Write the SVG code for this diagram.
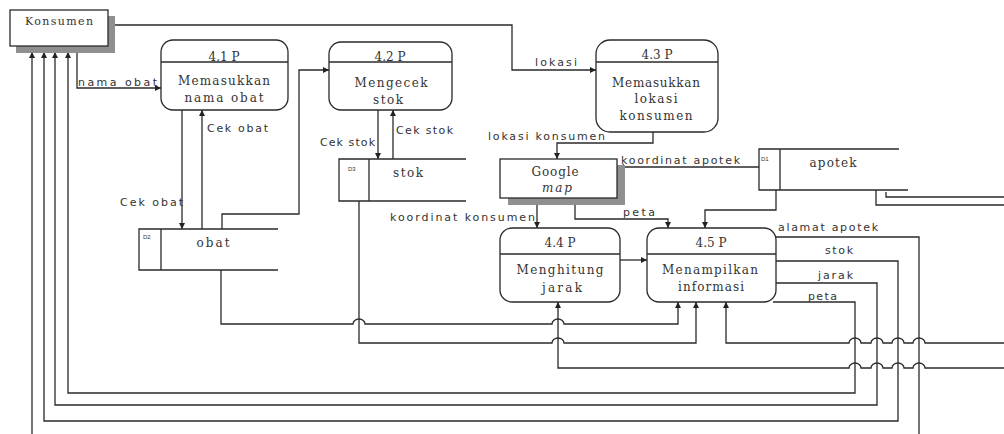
<svg xmlns="http://www.w3.org/2000/svg" width="1004" height="434" viewBox="0 0 1004 434">
<style>
.bx{fill:#fff;stroke:#2a2a2a;stroke-width:1.3}
.sh{fill:#8f8f8f}
.ln{fill:none;stroke:#2a2a2a;stroke-width:1.3}
.pt{font-family:"DejaVu Serif","Liberation Serif",serif;font-size:12px;fill:#333;text-anchor:middle}
.lb{font-family:"DejaVu Sans","Liberation Sans",sans-serif;font-size:11px;fill:#333}
.sm{font-family:"Liberation Sans",sans-serif;font-size:6px;fill:#333}
</style>
<defs>
<marker id="ar" markerUnits="userSpaceOnUse" markerWidth="7" markerHeight="6" refX="6" refY="3" orient="auto">
<path d="M0,0 L6,3 L0,6 Z" fill="#222"/>
</marker>
</defs>
<rect width="1004" height="434" fill="#fff"/>

<g id="connectors">
<path class="ln" d="M110 25 H512 V70 H596" marker-end="url(#ar)"/>
<path class="ln" d="M77 50 V88 H161" marker-end="url(#ar)"/>
<path class="ln" d="M182 110 V229" marker-end="url(#ar)"/>
<path class="ln" d="M202 229 V110" marker-end="url(#ar)"/>
<path class="ln" d="M222 229 V214 H299 V70 H329" marker-end="url(#ar)"/>
<path class="ln" d="M378 110 V159" marker-end="url(#ar)"/>
<path class="ln" d="M393 159 V110" marker-end="url(#ar)"/>
<path class="ln" d="M653 132 V143 H557 V159" marker-end="url(#ar)"/>
<path class="ln" d="M759 167 H618" marker-end="url(#ar)"/>
<path class="ln" d="M537 205 V228" marker-end="url(#ar)"/>
<path class="ln" d="M575 203 V219 H668 V228" marker-end="url(#ar)"/>
<path class="ln" d="M776 190 V210 H705 V228" marker-end="url(#ar)"/>
<path class="ln" d="M876 190 V205 H1004"/>
<path class="ln" d="M1004 197 H886 V192"/>
<path class="ln" d="M620 260 H647" marker-end="url(#ar)"/>
<path class="ln" d="M776 237 H919 V434"/>
<path class="ln" d="M32 434 V52" marker-end="url(#ar)"/>
<path class="ln" d="M776 261 H898 V421 H44 V52" marker-end="url(#ar)"/>
<path class="ln" d="M776 283 H877 V405 H55 V52" marker-end="url(#ar)"/>
<path class="ln" d="M773 302 H855 V393 H68 V52" marker-end="url(#ar)"/>
<path class="ln" d="M221 270 V324 H353 a6 5 0 0 1 12 0 H552 a6 5 0 0 1 12 0 H678 V302" marker-end="url(#ar)"/>
<path class="ln" d="M359 201 V343 H552 a6 5 0 0 1 12 0 H696 V302" marker-end="url(#ar)"/>
<path class="ln" d="M1004 343 H925 a6 5 0 0 0 -12 0 H904 a6 5 0 0 0 -12 0 H883 a6 5 0 0 0 -12 0 H861 a6 5 0 0 0 -12 0 H726 V302" marker-end="url(#ar)"/>
<path class="ln" d="M1004 368 H925 a6 5 0 0 0 -12 0 H904 a6 5 0 0 0 -12 0 H883 a6 5 0 0 0 -12 0 H861 a6 5 0 0 0 -12 0 H558 V302" marker-end="url(#ar)"/>
</g>

<g id="konsumen">
<rect class="sh" x="16" y="16" width="99" height="37"/>
<rect class="bx" x="10" y="10" width="98" height="36"/>
<text class="pt" x="25" y="25" style="text-anchor:start;font-size:11px" textLength="68">Konsumen</text>
</g>

<g id="p41">
<rect class="bx" x="161" y="40" width="127" height="70" rx="12"/>
<line class="ln" x1="161" y1="62" x2="288" y2="62"/>
<text class="pt" x="224" y="61">4.1 P</text>
<text class="pt" x="224" y="85" textLength="92">Memasukkan</text>
<text class="pt" x="224" y="102" textLength="79">nama obat</text>
</g>

<g id="p42">
<rect class="bx" x="329" y="42" width="123" height="68" rx="12"/>
<line class="ln" x1="329" y1="62" x2="452" y2="62"/>
<text class="pt" x="390" y="61">4.2 P</text>
<text class="pt" x="391" y="87" textLength="73">Mengecek</text>
<text class="pt" x="388" y="104" textLength="30">stok</text>
</g>

<g id="p43">
<rect class="bx" x="596" y="40" width="122" height="92" rx="14"/>
<line class="ln" x1="596" y1="62" x2="718" y2="62"/>
<text class="pt" x="657" y="59">4.3 P</text>
<text class="pt" x="656" y="87" textLength="88">Memasukkan</text>
<text class="pt" x="656" y="103" textLength="43">lokasi</text>
<text class="pt" x="656" y="120" textLength="73">konsumen</text>
</g>

<g id="p44">
<rect class="bx" x="500" y="228" width="120" height="74" rx="12"/>
<line class="ln" x1="500" y1="254" x2="620" y2="254"/>
<text class="pt" x="560" y="247">4.4 P</text>
<text class="pt" x="560" y="274" textLength="87">Menghitung</text>
<text class="pt" x="562" y="292" textLength="40">jarak</text>
</g>

<g id="p45">
<rect class="bx" x="647" y="228" width="129" height="74" rx="12"/>
<line class="ln" x1="647" y1="254" x2="776" y2="254"/>
<text class="pt" x="711" y="247">4.5 P</text>
<text class="pt" x="710" y="274" textLength="96">Menampilkan</text>
<text class="pt" x="711" y="291" textLength="66">informasi</text>
</g>

<g id="google">
<rect class="sh" x="508" y="165" width="117" height="40"/>
<rect class="bx" x="500" y="159" width="117" height="39"/>
<text class="pt" x="555" y="176" textLength="47">Google</text>
<text class="pt" x="557" y="192" style="font-style:italic" textLength="30">map</text>
</g>

<g id="d2-obat">
<path class="ln" d="M278 229 H139 V270 H278 M161 229 V270"/>
<text class="sm" x="143" y="239">D2</text>
<text class="pt" x="213" y="247" textLength="33">obat</text>
</g>

<g id="d3-stok">
<path class="ln" d="M466 159 H339 V201 H466 M369 159 V201"/>
<text class="sm" x="348" y="171">D3</text>
<text class="pt" x="408" y="177" textLength="30">stok</text>
</g>

<g id="d1-apotek">
<path class="ln" d="M899 149 H759 V190 H908 M780 149 V190"/>
<text class="sm" x="761" y="161">D1</text>
<text class="pt" x="833" y="167" textLength="47">apotek</text>
</g>

<g id="labels">
<text class="lb" x="78" y="86" textLength="79">nama obat</text>
<text class="lb" x="207" y="132" textLength="61">Cek obat</text>
<text class="lb" x="120" y="206" textLength="63">Cek obat</text>
<text class="lb" x="320" y="146" textLength="55">Cek stok</text>
<text class="lb" x="396" y="134" textLength="57">Cek stok</text>
<text class="lb" x="535" y="66" textLength="42">lokasi</text>
<text class="lb" x="488" y="140" textLength="117">lokasi konsumen</text>
<text class="lb" x="621" y="164" textLength="119">koordinat apotek</text>
<text class="lb" x="390" y="221" textLength="145">koordinat konsumen</text>
<text class="lb" x="623" y="216" textLength="32">peta</text>
<text class="lb" x="778" y="231" textLength="100">alamat apotek</text>
<text class="lb" x="825" y="254" textLength="28">stok</text>
<text class="lb" x="818" y="279" textLength="35">jarak</text>
<text class="lb" x="808" y="300" textLength="29">peta</text>
</g>
</svg>
